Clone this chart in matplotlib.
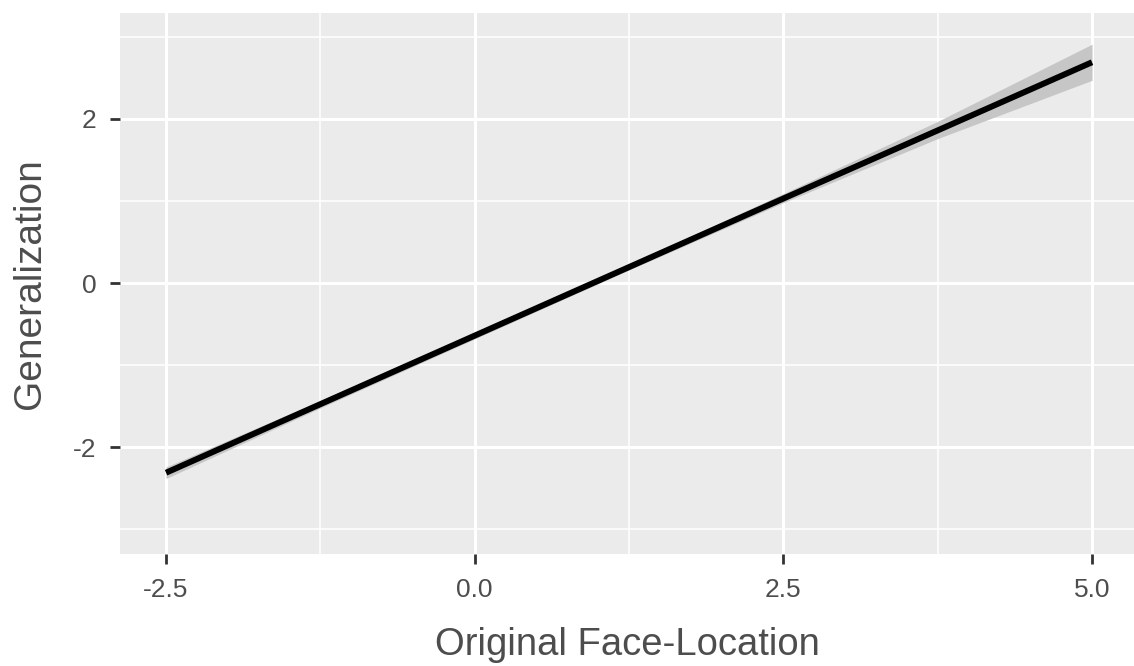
#!/usr/bin/env python3
"""Fitted line with confidence band, ggplot-like look."""
import matplotlib
matplotlib.use("Agg")
import matplotlib.pyplot as plt
from matplotlib.ticker import MultipleLocator

# values
face_loc = [-2.5, -1.25, 0.0, 1.25, 2.5, 3.75, 5.0]
fit = [-2.31, -1.475, -0.64, 0.195, 1.03, 1.86, 2.69]
lower = [-2.38, -1.52, -0.68, 0.16, 0.98, 1.76, 2.47]
upper = [-2.24, -1.43, -0.60, 0.23, 1.09, 1.97, 2.91]
x_ticks = [-2.5, 0.0, 2.5, 5.0]
x_labels = ["-2.5", "0.0", "2.5", "5.0"]
y_ticks = [-2, 0, 2]


def main():
    plt.rcParams["font.family"] = ["Liberation Sans", "DejaVu Sans"]
    plt.rcParams["axes.unicode_minus"] = False
    fig = plt.figure(figsize=(11.34, 6.66), dpi=100)
    ax = fig.add_axes([120 / 1134, 112 / 666, 1 - 120 / 1134, (554 - 13) / 666])
    ax.set_facecolor("#EBEBEB")
    for s in ax.spines.values():
        s.set_visible(False)

    ax.fill_between(face_loc, lower, upper, color="#C6C6C6", lw=0, zorder=3)
    ax.plot(face_loc, fit, color="black", lw=4.3, solid_capstyle="butt", zorder=4)

    ax.set_xlim(-2.873, 5.34)
    ax.set_ylim(-3.30, 3.29)
    ax.set_xticks(x_ticks)
    ax.set_xticklabels(x_labels)
    ax.set_yticks(y_ticks)
    ax.xaxis.set_minor_locator(MultipleLocator(1.25))
    ax.yaxis.set_minor_locator(MultipleLocator(1))
    ax.grid(which="major", color="white", lw=2.2, zorder=0)
    ax.grid(which="minor", color="white", lw=1.1, zorder=0)
    ax.set_axisbelow(True)
    ax.tick_params(which="major", length=7, width=2, color="#333333",
                   labelcolor="#4D4D4D", labelsize=19, pad=10)
    ax.tick_params(which="minor", length=0)

    ax.set_xlabel("Original Face-Location", fontsize=27.5, color="#4D4D4D",
                  labelpad=18)
    ax.set_ylabel("Generalization", fontsize=28, color="#4D4D4D", labelpad=18)

    fig.savefig("out.png", dpi=100)
    plt.close(fig)


if __name__ == "__main__":
    main()
